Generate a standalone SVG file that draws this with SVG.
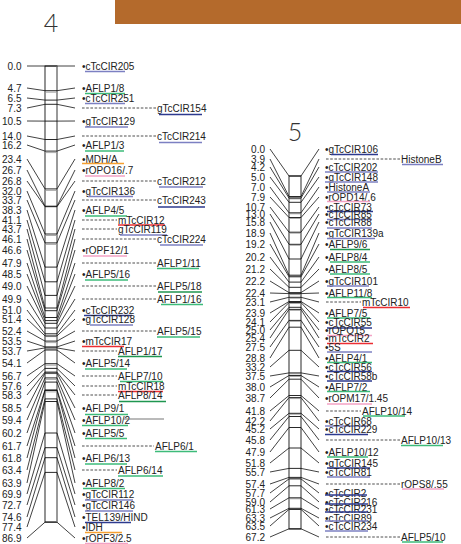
<svg xmlns="http://www.w3.org/2000/svg" width="461" height="544" viewBox="0 0 461 544">
<style>
text{font-family:"Liberation Sans",Arial,sans-serif;font-size:10px;fill:#222}
.p{text-anchor:end}
.t{font-family:Lato,"DejaVu Sans",sans-serif;font-weight:300;font-size:25px;text-anchor:middle;fill:#333}
.ul{stroke-width:1.3;fill:none}
.lil{stroke:#7c80c2}.nav{stroke:#2d3a8e}.grn{stroke:#3dbb7a}.dgr{stroke:#1f9650}
.red{stroke:#ec2e33}.pnk{stroke:#f3a2c5}.org{stroke:#f5a031}
.dash{stroke:#222;stroke-width:.8;stroke-dasharray:2.6 1.6}
.conn{stroke:#111;stroke-width:.8;fill:none}
.band{stroke:#111;stroke-width:.9;fill:none}
.shade{stroke:#aaa;stroke-width:1;fill:none}
.bar{fill:#fff;stroke:#111;stroke-width:.9}
</style>

<!-- header strip -->
<rect x="115" y="0" width="346" height="24" fill="#b46a2c"/>

<!-- linkage group titles -->
<text class="t" x="51" y="32">4</text>
<text class="t" x="295" y="141">5</text>

<!-- chromosome bars -->
<g id="chr4">
<rect class="bar" x="45" y="66" width="12" height="456"/>
<line x1="57" y1="66" x2="57" y2="522" stroke="#999" stroke-width="2"/>
<path class="shade" d="M46 92.2H56M46 152.6H56M46 190.4H56M46 235.5H56M46 244.4H56M46 336.6H56M46 342.6H56M46 349.2H56M46 365.2H56M46 373.6H56M46 379.4H56M46 391.9H56"/>
<path class="band" d="M45 66H57M45 90.7H57M45 100.1H57M45 104.3H57M45 121.1H57M45 139.5H57M45 151.1H57M45 188.9H57M45 206.2H57M45 206.7H57M45 234H57M45 242.9H57M45 267.1H57M45 281.8H57M45 295.4H57M45 308H57M45 310.7H57M45 317.5H57M45 320.6H57M45 323.3H57M45 328H57M45 333.8H57M45 335.9H57M45 341.1H57M45 346.9H57M45 347.9H57M45 350H57M45 363.7H57M45 368.4H57M45 372.1H57M45 373.1H57M45 377.9H57M45 382.1H57M45 389.9H57M45 390.5H57M45 398.9H57M45 401.5H57M45 433H57M45 447.7H57M45 457.7H57M45 472.4H57M45 522.2H57"/>
</g>
<g id="chr5">
<rect class="bar" x="289" y="176" width="12" height="353"/>
<path class="shade" d="M290 197.5H300M290 198.9H300M290 213.8H300M290 218.5H300M290 233.2H300M290 245.3H300M290 276.2H300M290 294.6H300M290 298.3H300M290 303.5H300M290 310.4H300M290 321.4H300M290 373.9H300M290 376.5H300M290 398.6H300M290 414.3H300M290 478.4H300M290 498.8H300M290 509.3H300"/>
<path class="band" d="M289 176H301M289 196.5H301M289 198.1H301M289 202.3H301M289 212.8H301M289 217.5H301M289 232.2H301M289 244.3H301M289 259H301M289 275.2H301M289 276.8H301M289 282.1H301M289 287.3H301M289 292.6H301M289 293.6H301M289 297.3H301M289 301.5H301M289 302.5H301M289 307.3H301M289 309.4H301M289 320.4H301M289 327.2H301M289 350.3H301M289 372.9H301M289 375.5H301M289 379.2H301M289 395.5H301M289 397.6H301M289 413.3H301M289 416.5H301M289 427.5H301M289 448H301M289 468.4H301M289 477.4H301M289 478.9H301M289 485.8H301M289 497.8H301M289 508.3H301M289 509.4H301M289 528.8H301"/>
</g>

<!-- fan connectors from positions to bands to marker names -->
<g id="connectors" class="conn">
<path d="M27 66L45 66M57 66L75 66M27 88L45 90.7M57 90.7L75 88M27 98L45 100.1M57 100.1L75 98M27 108L45 104.3M57 104.3L75 108M27 121L45 121.1M57 121.1L75 121M27 136L45 139.5M57 139.5L75 136M27 145L45 151.1M57 151.1L75 145M27 159L45 188.9M57 188.9L75 159M27 170L45 206.2M57 206.2L75 170M27 181L45 206.7M57 206.7L75 181M27 191L45 234M57 234L75 191M27 200L45 242.9M57 242.9L75 200M27 210L45 267.1M57 267.1L75 210M27 220L45 281.8M57 281.8L75 220M27 229L45 295.4M57 295.4L75 229M27 239L45 308M57 308L75 239M27 250L45 310.7M57 310.7L75 250M27 263L45 317.5M57 317.5L75 263M27 274L45 320.6M57 320.6L75 274M27 286L45 323.3M57 323.3L75 286M27 299L45 328M57 328L75 299M27 310L45 333.8M57 333.8L75 310M27 319L45 335.9M57 335.9L75 319M27 331L45 341.1M57 341.1L75 331M27 341L45 346.9M57 346.9L75 341M27 351L45 347.9M57 347.9L75 351M27 363L45 350M57 350L75 363M27 376L45 363.7M57 363.7L75 376M27 386L45 368.4M57 368.4L75 386M27 395L45 372.1M57 372.1L75 395M27 408L45 373.1M57 373.1L75 408M27 420L45 377.9M57 377.9L75 420M27 433L45 382.1M57 382.1L75 433M27 446L45 389.9M57 389.9L75 446M27 458L45 390.5M57 390.5L75 458M27 470L45 398.9M57 398.9L75 470M27 483L45 401.5M57 401.5L75 483M27 494L45 433M57 433L75 494M27 505L45 447.7M57 447.7L75 505M27 517L45 457.7M57 457.7L75 517M27 527L45 472.4M57 472.4L75 527M27 538L45 522.2M57 522.2L75 538"/>
<path d="M270 149L289 176M301 176L319 149M270 159L289 196.5M301 196.5L319 159M270 167L289 198.1M301 198.1L319 167M270 177L289 202.3M301 202.3L319 177M270 187L289 212.8M301 212.8L319 187M270 197L289 217.5M301 217.5L319 197M270 207L289 232.2M301 232.2L319 207M270 214L289 244.3M301 244.3L319 214M270 222L289 259M301 259L319 222M270 233L289 275.2M301 275.2L319 233M270 244L289 276.8M301 276.8L319 244M270 257L289 282.1M301 282.1L319 257M270 269L289 287.3M301 287.3L319 269M270 281L289 292.6M301 292.6L319 281M270 293L289 293.6M301 293.6L319 293M270 302L289 297.3M301 297.3L319 302M270 313L289 301.5M301 301.5L319 313M270 322L289 302.5M301 302.5L319 322M270 330L289 307.3M301 307.3L319 330M270 338L289 309.4M301 309.4L319 338M270 347L289 320.4M301 320.4L319 347M270 358L289 327.2M301 327.2L319 358M270 367L289 350.3M301 350.3L319 367M270 376L289 372.9M301 372.9L319 376M270 387L289 375.5M301 375.5L319 387M270 398L289 379.2M301 379.2L319 398M270 411L289 395.5M301 395.5L319 411M270 421L289 397.6M301 397.6L319 421M270 429L289 413.3M301 413.3L319 429M270 440L289 416.5M301 416.5L319 440M270 452L289 427.5M301 427.5L319 452M270 463L289 448M301 448L319 463M270 472L289 468.4M301 468.4L319 472M270 484L289 477.4M301 477.4L319 484M270 493L289 478.9M301 478.9L319 493M270 502L289 485.8M301 485.8L319 502M270 509L289 497.8M301 497.8L319 509M270 518L289 508.3M301 508.3L319 518M270 526L289 509.4M301 509.4L319 526M270 537L289 528.8M301 528.8L319 537"/>
</g>

<!-- linkage group 4 markers -->
<g id="lg4-markers">
<g id="m4-cTcCIR205"><text class="p" x="21.5" y="69.5">0.0</text><text x="82" y="69.5">•cTcCIR205</text><line class="ul lil" x1="85" y1="71.5" x2="125" y2="71.5"/></g>
<g id="m4-AFLP1-8"><text class="p" x="21.5" y="91.5">4.7</text><text x="82" y="91.5">•AFLP1/8</text><line class="ul grn" x1="85" y1="93.5" x2="125" y2="93.5"/></g>
<g id="m4-cTcCIR251"><text class="p" x="21.5" y="101.5">6.5</text><text x="82" y="101.5">•cTcCIR251</text><line class="ul lil" x1="85" y1="103.5" x2="125" y2="103.5"/></g>
<g id="m4-gTcCIR154"><text class="p" x="21.5" y="111.5">7.3</text><line class="dash" x1="82" y1="108" x2="156" y2="108"/><text x="157" y="111.5">gTcCIR154</text><line class="ul nav" x1="159" y1="114.5" x2="202" y2="114.5"/></g>
<g id="m4-gTcCIR129"><text class="p" x="21.5" y="124.5">10.5</text><text x="82" y="124.5">•gTcCIR129</text><line class="ul lil" x1="85" y1="127" x2="128" y2="127"/></g>
<g id="m4-cTcCIR214"><text class="p" x="21.5" y="139.5">14.0</text><line class="dash" x1="82" y1="136" x2="156" y2="136"/><text x="157" y="139.5">cTcCIR214</text><line class="ul lil" x1="159" y1="142.5" x2="202" y2="142.5"/></g>
<g id="m4-AFLP1-3"><text class="p" x="21.5" y="148.5">16.2</text><text x="82" y="148.5">•AFLP1/3</text><line class="ul grn" x1="85" y1="151" x2="124" y2="151"/></g>
<g id="m4-MDH-A"><text class="p" x="21.5" y="162.5">23.4</text><text x="82" y="162.5">•MDH/A</text><line class="ul org" x1="82" y1="163.5" x2="124" y2="163.5"/></g>
<g id="m4-rOPO16"><text class="p" x="21.5" y="173.5">26.7</text><text x="82" y="173.5">•rOPO16/.7</text><line class="ul pnk" x1="85" y1="176" x2="125" y2="176"/></g>
<g id="m4-cTcCIR212"><text class="p" x="21.5" y="184.5">26.8</text><line class="dash" x1="82" y1="181" x2="156" y2="181"/><text x="157" y="184.5">cTcCIR212</text><line class="ul lil" x1="159" y1="187" x2="203" y2="187"/></g>
<g id="m4-gTcCIR136"><text class="p" x="21.5" y="194.5">32.0</text><text x="82" y="194.5">•gTcCIR136</text><line class="ul lil" x1="88" y1="196.5" x2="133" y2="196.5"/></g>
<g id="m4-cTcCIR243"><text class="p" x="21.5" y="203.5">33.7</text><line class="dash" x1="82" y1="200" x2="156" y2="200"/><text x="157" y="203.5">cTcCIR243</text><line class="ul nav" x1="158" y1="207" x2="205" y2="207"/></g>
<g id="m4-AFLP4-5"><text class="p" x="21.5" y="213.5">38.3</text><text x="82" y="213.5">•AFLP4/5</text><line class="ul grn" x1="85" y1="216" x2="127" y2="216"/></g>
<g id="m4-mTcCIR12"><text class="p" x="21.5" y="223.5">41.1</text><line class="dash" x1="82" y1="220" x2="117" y2="220"/><text x="118" y="223.5">mTcCIR12</text><line class="ul red" x1="118" y1="225" x2="165" y2="225"/></g>
<g id="m4-gTcCIR119"><text class="p" x="21.5" y="232.5">43.7</text><line class="dash" x1="82" y1="229" x2="117" y2="229"/><text x="118" y="232.5">gTcCIR119</text><line class="ul lil" x1="120" y1="235" x2="167" y2="235"/></g>
<g id="m4-cTcCIR224"><text class="p" x="21.5" y="242.5">46.1</text><line class="dash" x1="82" y1="239" x2="156" y2="239"/><text x="157" y="242.5">cTcCIR224</text><line class="ul lil" x1="160" y1="245" x2="203" y2="245"/></g>
<g id="m4-rOPF12-1"><text class="p" x="21.5" y="253.5">46.6</text><text x="82" y="253.5">•rOPF12/1</text><line class="ul pnk" x1="83" y1="256" x2="127" y2="256"/></g>
<g id="m4-AFLP1-11"><text class="p" x="21.5" y="266.5">47.9</text><line class="dash" x1="82" y1="263" x2="156" y2="263"/><text x="157" y="266.5">AFLP1/11</text><line class="ul grn" x1="157" y1="268.5" x2="199" y2="268.5"/></g>
<g id="m4-AFLP5-16"><text class="p" x="21.5" y="277.5">48.5</text><text x="82" y="277.5">•AFLP5/16</text><line class="ul grn" x1="85" y1="280" x2="128" y2="280"/></g>
<g id="m4-AFLP5-18"><text class="p" x="21.5" y="289.5">49.0</text><line class="dash" x1="82" y1="286" x2="156" y2="286"/><text x="157" y="289.5">AFLP5/18</text><line class="ul dgr" x1="158" y1="292" x2="202" y2="292"/></g>
<g id="m4-AFLP1-16"><text class="p" x="21.5" y="302.5">49.9</text><line class="dash" x1="82" y1="299" x2="156" y2="299"/><text x="157" y="302.5">AFLP1/16</text><line class="ul grn" x1="161" y1="304.5" x2="203" y2="304.5"/></g>
<g id="m4-cTcCIR232"><text class="p" x="21.5" y="313.5">51.0</text><text x="82" y="313.5">•cTcCIR232</text><line class="ul nav" x1="84" y1="315.5" x2="132" y2="315.5"/></g>
<g id="m4-gTcCIR128"><text class="p" x="21.5" y="322.5">51.4</text><text x="82" y="322.5">•gTcCIR128</text><line class="ul lil" x1="90" y1="325" x2="133" y2="325"/></g>
<g id="m4-AFLP5-15"><text class="p" x="21.5" y="334.5">52.4</text><line class="dash" x1="82" y1="331" x2="156" y2="331"/><text x="157" y="334.5">AFLP5/15</text><line class="ul grn" x1="157" y1="337" x2="200" y2="337"/></g>
<g id="m4-mTcCIR17"><text class="p" x="21.5" y="344.5">53.5</text><text x="82" y="344.5">•mTcCIR17</text><line class="ul red" x1="82" y1="346.5" x2="124" y2="346.5"/></g>
<g id="m4-AFLP1-17"><text class="p" x="21.5" y="354.5">53.7</text><line class="dash" x1="82" y1="351" x2="117" y2="351"/><text x="118" y="354.5">AFLP1/17</text><line class="ul dgr" x1="118" y1="356.5" x2="162" y2="356.5"/></g>
<g id="m4-AFLP5-14"><text class="p" x="21.5" y="366.5">54.1</text><text x="82" y="366.5">•AFLP5/14</text><line class="ul grn" x1="85" y1="369" x2="127" y2="369"/></g>
<g id="m4-AFLP7-10"><text class="p" x="21.5" y="379.5">56.7</text><line class="dash" x1="82" y1="376" x2="117" y2="376"/><text x="118" y="379.5">AFLP7/10</text><line class="ul grn" x1="120" y1="381.5" x2="163" y2="381.5"/></g>
<g id="m4-mTcCIR18"><text class="p" x="21.5" y="389.5">57.6</text><line class="dash" x1="82" y1="386" x2="117" y2="386"/><text x="118" y="389.5">mTcCIR18</text><line class="ul red" x1="118" y1="391.5" x2="163" y2="391.5"/></g>
<g id="m4-AFLP8-14"><text class="p" x="21.5" y="398.5">58.3</text><line class="dash" x1="82" y1="395" x2="117" y2="395"/><text x="118" y="398.5">AFLP8/14</text><line class="ul dgr" x1="119" y1="401.5" x2="166" y2="401.5"/></g>
<g id="m4-AFLP9-1"><text class="p" x="21.5" y="411.5">58.5</text><text x="82" y="411.5">•AFLP9/1</text><line class="ul grn" x1="85" y1="414.5" x2="128" y2="414.5"/></g>
<g id="m4-AFLP10-2"><text class="p" x="21.5" y="423.5">59.4</text><text x="82" y="423.5">•AFLP10/2</text><line x1="123" y1="419" x2="164" y2="419" stroke="#777" stroke-width="1.2"/><line class="ul grn" x1="82" y1="425.5" x2="128" y2="425.5"/></g>
<g id="m4-AFLP5-5"><text class="p" x="21.5" y="436.5">60.2</text><text x="82" y="436.5">•AFLP5/5</text><line class="ul grn" x1="85" y1="438.5" x2="127" y2="438.5"/></g>
<g id="m4-AFLP6-1"><text class="p" x="21.5" y="449.5">61.7</text><line class="dash" x1="82" y1="446" x2="154" y2="446"/><text x="155" y="449.5">AFLP6/1</text><line class="ul grn" x1="155" y1="451.5" x2="197" y2="451.5"/></g>
<g id="m4-AFLP6-13"><text class="p" x="21.5" y="461.5">61.8</text><text x="82" y="461.5">•AFLP6/13</text><line class="ul grn" x1="85" y1="464" x2="127" y2="464"/></g>
<g id="m4-AFLP6-14"><text class="p" x="21.5" y="473.5">63.4</text><line class="dash" x1="82" y1="470" x2="117" y2="470"/><text x="118" y="473.5">AFLP6/14</text><line class="ul grn" x1="118" y1="476" x2="163" y2="476"/></g>
<g id="m4-AFLP8-2"><text class="p" x="21.5" y="486.5">63.9</text><text x="82" y="486.5">•AFLP8/2</text><line class="ul grn" x1="83" y1="488.5" x2="125" y2="488.5"/></g>
<g id="m4-gTcCIR112"><text class="p" x="21.5" y="497.5">69.9</text><text x="82" y="497.5">•gTcCIR112</text><line class="ul lil" x1="85" y1="500" x2="133" y2="500"/></g>
<g id="m4-gTcCIR146"><text class="p" x="21.5" y="508.5">72.7</text><text x="82" y="508.5">•gTcCIR146</text><line class="ul lil" x1="85" y1="511" x2="133" y2="511"/></g>
<g id="m4-TEL139"><text class="p" x="21.5" y="520.5">74.6</text><text x="82" y="520.5">•TEL139/HIND</text><line class="ul nav" x1="85" y1="522.5" x2="131" y2="522.5"/></g>
<g id="m4-IDH"><text class="p" x="21.5" y="530.5">77.4</text><text x="82" y="530.5">•IDH</text><line class="ul org" x1="85" y1="532.5" x2="122" y2="532.5"/></g>
<g id="m4-rOPF3"><text class="p" x="21.5" y="541.5">86.9</text><text x="82" y="541.5">•rOPF3/2.5</text><line class="ul pnk" x1="85" y1="543.5" x2="128" y2="543.5"/></g>
</g>

<!-- linkage group 5 markers -->
<g id="lg5-markers">
<g id="m5-gTcCIR106"><text class="p" x="265" y="152.5">0.0</text><text x="325" y="152.5">•gTcCIR106</text><line class="ul nav" x1="331" y1="154.5" x2="378" y2="154.5"/></g>
<g id="m5-HistoneB"><text class="p" x="265" y="162.5">3.9</text><line class="dash" x1="326" y1="159" x2="400" y2="159"/><text x="401" y="162.5">HistoneB</text><line class="ul lil" x1="402" y1="164.5" x2="443" y2="164.5"/></g>
<g id="m5-cTcCIR202"><text class="p" x="265" y="170.5">4.2</text><text x="325" y="170.5">•cTcCIR202</text><line class="ul lil" x1="325" y1="172" x2="378" y2="172"/></g>
<g id="m5-gTcCIR148"><text class="p" x="265" y="180.5">5.0</text><text x="325" y="180.5">•gTcCIR148</text><line class="ul lil" x1="325" y1="182" x2="378" y2="182"/></g>
<g id="m5-HistoneA"><text class="p" x="265" y="190.5">7.0</text><text x="325" y="190.5">•HistoneA</text><line class="ul lil" x1="327" y1="192" x2="370" y2="192"/></g>
<g id="m5-rOPD14"><text class="p" x="265" y="200.5">7.9</text><text x="325" y="200.5">•rOPD14/.6</text><line class="ul pnk" x1="327" y1="201.5" x2="370" y2="201.5"/></g>
<g id="m5-cTcCIR73"><text class="p" x="265" y="210.5">10.7</text><text x="325" y="210.5">•cTcCIR73</text><line class="ul nav" x1="327" y1="211.5" x2="373" y2="211.5"/></g>
<g id="m5-cTcCIR85"><text class="p" x="265" y="217.5">13.0</text><text x="325" y="217.5">•cTcCIR85</text><line class="ul lil" x1="327" y1="219.5" x2="372" y2="219.5"/></g>
<g id="m5-cTcCIR88"><text class="p" x="265" y="225.5">15.8</text><text x="325" y="225.5">•cTcCIR88</text><line class="ul lil" x1="327" y1="228" x2="372" y2="228"/></g>
<g id="m5-gTcCIR139a"><text class="p" x="265" y="236.5">18.9</text><text x="325" y="236.5">•gTcCIR139a</text><line class="ul lil" x1="327" y1="238.5" x2="375" y2="238.5"/></g>
<g id="m5-AFLP9-6"><text class="p" x="265" y="247.5">19.2</text><text x="325" y="247.5">•AFLP9/6</text><line class="ul dgr" x1="330" y1="249.5" x2="370" y2="249.5"/></g>
<g id="m5-AFLP8-4"><text class="p" x="265" y="260.5">20.2</text><text x="325" y="260.5">•AFLP8/4</text><line class="ul grn" x1="330" y1="262" x2="370" y2="262"/></g>
<g id="m5-AFLP8-5"><text class="p" x="265" y="272.5">21.2</text><text x="325" y="272.5">•AFLP8/5</text><line class="ul grn" x1="330" y1="274" x2="370" y2="274"/></g>
<g id="m5-gTcCIR101"><text class="p" x="265" y="284.5">22.2</text><text x="325" y="284.5">•gTcCIR101</text><line class="ul lil" x1="327" y1="286" x2="369" y2="286"/></g>
<g id="m5-AFLP11-8"><text class="p" x="265" y="296.5">22.4</text><text x="325" y="296.5">•AFLP11/8</text><line class="ul grn" x1="327" y1="297.5" x2="372" y2="297.5"/></g>
<g id="m5-mTcCIR10"><text class="p" x="265" y="305.5">23.1</text><line class="dash" x1="326" y1="302" x2="361" y2="302"/><text x="362" y="305.5">mTcCIR10</text><line class="ul red" x1="363" y1="307.5" x2="410" y2="307.5"/></g>
<g id="m5-AFLP7-5"><text class="p" x="265" y="316.5">23.9</text><text x="325" y="316.5">•AFLP7/5</text><line class="ul grn" x1="327" y1="318" x2="370" y2="318"/></g>
<g id="m5-cTcCIR55"><text class="p" x="265" y="325.5">24.1</text><text x="325" y="325.5">•cTcCIR55</text><line class="ul nav" x1="327" y1="328" x2="372" y2="328"/></g>
<g id="m5-rOPO15"><text class="p" x="265" y="333.5">25.0</text><text x="325" y="333.5">•rOPO15</text><line class="ul pnk" x1="327" y1="335.5" x2="372" y2="335.5"/></g>
<g id="m5-mTcCIR2"><text class="p" x="265" y="341.5">25.4</text><text x="325" y="341.5">•mTcCIR2</text><line class="ul red" x1="327" y1="343.5" x2="373" y2="343.5"/></g>
<g id="m5-5S"><text class="p" x="265" y="350.5">27.5</text><text x="325" y="350.5">•5S</text><line class="ul lil" x1="327" y1="352" x2="372" y2="352"/></g>
<g id="m5-AFLP4-1"><text class="p" x="265" y="361.5">28.8</text><text x="325" y="361.5">•AFLP4/1</text><line class="ul grn" x1="327" y1="362.5" x2="372" y2="362.5"/></g>
<g id="m5-cTcCIR56"><text class="p" x="265" y="370.5">33.2</text><text x="325" y="370.5">•cTcCIR56</text><line class="ul nav" x1="327" y1="371.5" x2="372" y2="371.5"/></g>
<g id="m5-cTcCIR58b"><text class="p" x="265" y="379.5">37.5</text><text x="325" y="379.5">•cTcCIR58b</text><line class="ul nav" x1="327" y1="381" x2="372" y2="381"/></g>
<g id="m5-AFLP7-2"><text class="p" x="265" y="390.5">38.0</text><text x="325" y="390.5">•AFLP7/2</text><line class="ul grn" x1="327" y1="391.5" x2="370" y2="391.5"/></g>
<g id="m5-rOPM17"><text class="p" x="265" y="401.5">38.7</text><text x="325" y="401.5">•rOPM17/1.45</text><line class="ul pnk" x1="327" y1="404" x2="372" y2="404"/></g>
<g id="m5-AFLP10-14"><text class="p" x="265" y="414.5">41.8</text><line class="dash" x1="326" y1="411" x2="361" y2="411"/><text x="362" y="414.5">AFLP10/14</text><line class="ul grn" x1="363" y1="416" x2="405" y2="416"/></g>
<g id="m5-cTcCIR68"><text class="p" x="265" y="424.5">42.2</text><text x="325" y="424.5">•cTcCIR68</text><line class="ul lil" x1="325" y1="426" x2="368" y2="426"/></g>
<g id="m5-cTcCIR229"><text class="p" x="265" y="432.5">45.2</text><text x="325" y="432.5">•cTcCIR229</text><line class="ul nav" x1="325" y1="434.5" x2="368" y2="434.5"/></g>
<g id="m5-AFLP10-13"><text class="p" x="265" y="443.5">45.8</text><line class="dash" x1="326" y1="440" x2="400" y2="440"/><text x="401" y="443.5">AFLP10/13</text><line class="ul grn" x1="401" y1="445.5" x2="443" y2="445.5"/></g>
<g id="m5-AFLP10-12"><text class="p" x="265" y="455.5">47.9</text><text x="325" y="455.5">•AFLP10/12</text><line class="ul grn" x1="327" y1="457" x2="368" y2="457"/></g>
<g id="m5-gTcCIR145"><text class="p" x="265" y="466.5">51.8</text><text x="325" y="466.5">•gTcCIR145</text><line class="ul nav" x1="327" y1="468" x2="370" y2="468"/></g>
<g id="m5-cTcCIR81"><text class="p" x="265" y="475.5">55.7</text><text x="325" y="475.5">•cTcCIR81</text><line class="ul lil" x1="327" y1="477" x2="370" y2="477"/></g>
<g id="m5-rOPS8"><text class="p" x="265" y="487.5">57.4</text><line class="dash" x1="326" y1="484" x2="400" y2="484"/><text x="401" y="487.5">rOPS8/.55</text><line class="ul pnk" x1="402" y1="489" x2="444" y2="489"/></g>
<g id="m5-cTcCIR2"><text class="p" x="265" y="496.5">57.7</text><text x="325" y="496.5">•cTcCIR2</text><line class="ul nav" x1="325" y1="495" x2="367" y2="495"/></g>
<g id="m5-cTcCIR216"><text class="p" x="265" y="505.5">59.0</text><text x="325" y="505.5">•cTcCIR216</text><line class="ul nav" x1="325" y1="504" x2="368" y2="504"/></g>
<g id="m5-cTcCIR231"><text class="p" x="265" y="512.5">61.3</text><text x="325" y="512.5">•cTcCIR231</text><line class="ul nav" x1="325" y1="512" x2="368" y2="512"/></g>
<g id="m5-cTcCIR89"><text class="p" x="265" y="521.5">63.3</text><text x="325" y="521.5">•cTcCIR89</text><line class="ul lil" x1="325" y1="521" x2="368" y2="521"/></g>
<g id="m5-cTcCIR234"><text class="p" x="265" y="529.5">63.5</text><text x="325" y="529.5">•cTcCIR234</text><line class="ul lil" x1="325" y1="531" x2="368" y2="531"/></g>
<g id="m5-AFLP5-10"><text class="p" x="265" y="540.5">67.2</text><line class="dash" x1="326" y1="537" x2="400" y2="537"/><text x="401" y="540.5">AFLP5/10</text><line class="ul grn" x1="402" y1="542" x2="443" y2="542"/></g>
</g>
</svg>
